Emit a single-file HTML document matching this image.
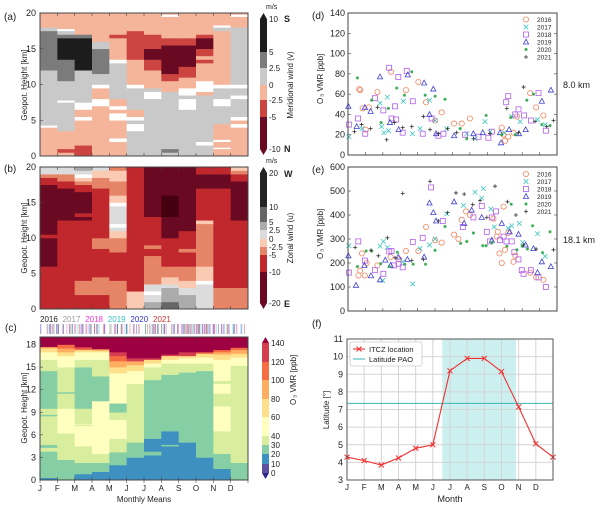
<!DOCTYPE html>
<html><head><meta charset="utf-8"><style>
body{margin:0;background:#fff}
svg{display:block;font-family:"Liberation Sans",sans-serif}
</style></head><body>
<svg id="fig" width="600" height="509" viewBox="0 0 600 509" xmlns="http://www.w3.org/2000/svg"></svg>
<script>
// ---------- DATA ----------
// Panel (a): meridional wind, per month column segments [topKm, classIndex] from ground up
// classes: 0 <-5, 1 -5..-2.5, 2 -2.5..0, 3 0..2.5, 4 2.5..5, 5 >5, 6 no data
const monthsLbl = ['J','F','M','A','M','J','J','A','S','O','N','D'];
const vWind = [
 [[4,2],[4.3,6],[12,3],[17.5,4],[18,3],[20,2]],
 [[0.5,2],[1,1],[3.5,2],[7.5,3],[7.8,6],[10.5,3],[13.5,4],[16.5,5],[17,4],[17.5,3],[17.8,6],[20,2]],
 [[1.5,1],[5,2],[5.5,6],[6.5,2],[7.5,6],[12,3],[16.5,5],[17,4],[20,2]],
 [[7,2],[8,6],[9.5,2],[10,6],[11.5,3],[15,4],[16,3],[20,2]],
 [[2,2],[2.5,6],[5,2],[6,6],[6.5,2],[7,6],[8,2],[13,3],[13.5,6],[16.5,2],[17,1],[20,2]],
 [[3.5,3],[4.5,6],[5,3],[5.5,6],[6.5,2],[9.5,3],[10,6],[13.5,2],[17.5,1],[20,2]],
 [[8,3],[9,6],[9.5,3],[12,2],[13.5,1],[15,0],[17,1],[20,2]],
 [[0.5,3],[1,4],[9,3],[10.5,2],[11.5,1],[15.5,0],[16.5,1],[19.5,2],[19.8,6],[20,2]],
 [[6.5,3],[8,6],[8.5,3],[9.5,6],[11,2],[12.5,1],[15.5,0],[16.5,1],[20,2]],
 [[1.5,3],[2,6],[8.5,3],[9,2],[10.5,6],[13,2],[13.5,1],[14,2],[15,1],[16.5,0],[17,1],[20,2]],
 [[1,2],[1.2,6],[2,2],[2.3,6],[4.5,2],[7,3],[8,6],[9.5,3],[10,6],[17.5,2],[18,3],[18.3,6],[20,2]],
 [[4,2],[4.5,6],[5,2],[5.5,6],[8,3],[8.5,6],[9.5,3],[10,6],[18,3],[19.5,2],[19.8,6],[20,2]]
];
const vColors = ['#6a0a22','#cc4440','#f4b59b','#c9c9c9','#7b7b7b','#1c1c1c','#ffffff'];
const vTicks = ['10','5','2.5','0','-2.5','-5','-10'];

// Panel (b): zonal wind classes: 0 <-10,1 -10..-5,2 -5..-2.5,3 -2.5..0,4 0..2.5,5 2.5..5,6 5..10,7 >10,8 extreme,9 no data
const uWind = [
 [[6,1],[10,0],[10.5,1],[17.5,0],[18.5,1],[19,2],[20,4]],
 [[12.5,1],[17,0],[18,1],[19,2],[20,4]],
 [[2,1],[4,2],[12.5,1],[13,0],[13.5,1],[16.5,0],[17.5,1],[18,2],[18.5,3],[19,9],[19.5,4],[20,5]],
 [[2,1],[4.5,2],[8.5,1],[10,2],[17,1],[18.5,2],[19.5,3],[20,4]],
 [[4,2],[8,1],[10,2],[11,3],[11.5,4],[12,9],[14.5,4],[15,9],[16,3],[18,2],[19.5,3],[20,2]],
 [[2.5,3],[20,1]],
 [[1,5],[2,4],[2.5,9],[3.5,4],[7.5,2],[8.5,1],[9,2],[13,1],[20,0]],
 [[1,6],[3,5],[3.5,4],[4.5,3],[6,2],[10,1],[13,0],[16,8],[20,0]],
 [[2,5],[3,4],[4,3],[6,2],[8,1],[8.5,2],[11,1],[20,0]],
 [[3.5,4],[4,9],[6,3],[12,2],[12.5,3],[17,1],[19,0],[20,1]],
 [[3,2],[17,1],[19,0],[20,1]],
 [[3,2],[12.5,1],[18,0],[19,1],[19.5,2],[20,3]]
];
const uColors = ['#6a0a22','#c0282d','#e58466','#fbcab2','#dcdcdc','#ababab','#666666','#222222','#45000f','#ffffff'];
const uTicks = ['20','10','5','2.5','0','-2.5','-5','-10','-20'];

// Panel (c): ozone classes 0:0-10,1:10-20,2:20-30,3:30-40,4:40-60,5:60-80,6:80-100,7:100-120,8:120-140,9:>140
const ozone = [
 [[0.3,1],[3.8,2],[4.3,3],[4.7,2],[8.5,3],[8.7,2],[9.5,3],[14.5,2],[16,3],[17,4],[17.5,5],[17.7,6],[19,9]],
 [[2.7,2],[6.2,3],[9.5,4],[11.5,3],[11.7,2],[15,3],[16.5,4],[17,5],[17.5,6],[18,7],[19,9]],
 [[0.8,1],[2.3,2],[4.5,3],[7.2,4],[7.4,3],[7.5,4],[9.5,3],[15,2],[16,3],[17,4],[17.3,5],[17.5,7],[17.7,8],[19,9]],
 [[1.1,1],[2.3,2],[3.5,3],[10.5,4],[13.8,2],[16,3],[17,4],[17.2,5],[17.4,6],[19,9]],
 [[2,1],[3.7,2],[5.5,3],[8,4],[9,3],[10.2,2],[14.2,4],[15,5],[15.8,6],[16.5,7],[17,8],[19,9]],
 [[3,1],[5,2],[12.8,3],[14.5,4],[15.3,5],[15.8,6],[16.2,8],[19,9]],
 [[3.3,1],[3.8,2],[5.5,1],[13.3,2],[15,3],[15.5,4],[16,5],[16.2,8],[19,9]],
 [[4.5,1],[4.7,2],[6.5,1],[14,2],[15.5,3],[16,4],[16.5,5],[16.7,8],[19,9]],
 [[5,1],[14.3,2],[15.5,3],[16.2,4],[16.5,5],[17,8],[19,9]],
 [[3,1],[14.5,2],[15.5,3],[16.3,4],[16.8,5],[17,7],[19,9]],
 [[1.5,1],[3.5,2],[6.5,3],[9.8,4],[11.5,3],[12.8,4],[13.2,3],[16,4],[16.7,5],[17,6],[17.3,7],[19,9]],
 [[2.3,2],[15.2,3],[16.3,4],[16.8,5],[17.3,6],[17.6,7],[19,9]]
];
const oColors = ['#5e4fa2','#3d90bf','#86cfa4','#d8ee9e','#ffffc0','#fee08b','#fdae61','#f46d43','#d53e4f','#9e0142'];
const oTicks = ['0','10','20','30','40','60','80','100','120','140'];

// Panels (d),(e): [monthFraction, ppb]
const years = ['2016','2017','2018','2019','2020','2021'];
const yearColors = ['#f4845f','#3cc8c0','#b15ee8','#4040d8','#2ea84a','#333333'];
const yearLblColors = ['#222','#999','#ff33dd','#33c4c0','#3333cc','#cc3333'];
const d2016 = [[0.65,65],[0.7,64],[0.84,46],[1.02,25],[1.2,47],[1.69,62],[2.47,82],[3.33,64],[4.04,72],[4.48,52],[5.0,34],[5.38,42],[6.09,31],[6.53,31],[7.0,36],[8.83,27],[8.93,20],[9.02,14],[9.2,18],[9.5,22],[9.7,38],[10.46,61],[10.8,47],[11.22,39]];
const d2017 = [[0.05,18],[0.8,26],[1.84,51],[1.93,28],[2.06,22],[2.26,57],[2.32,24],[3.18,53],[3.7,21],[4.14,26],[4.68,54],[5.0,34],[5.67,26],[6.82,21],[7.3,16],[7.87,33],[8.16,23],[8.97,22],[9.4,38],[9.88,33],[10.88,35],[11.32,30]];
const d2018 = [[0.05,30],[0.58,36],[0.99,21],[1.55,56],[2.03,44],[2.36,86],[2.5,36],[2.7,48],[2.76,35],[2.89,77],[3.14,22],[3.37,83],[3.72,53],[4.29,21],[4.8,36],[5.19,19],[5.48,21],[6.72,20],[7.49,18],[8.06,17],[8.26,23],[9.08,52],[9.2,58],[9.6,40],[9.79,45],[10.11,39],[10.5,34],[10.94,61],[11.36,24]];
const d2019 = [[0.02,48],[0.5,28],[0.97,47],[1.3,43],[1.84,77],[2.41,32],[2.91,25],[3.43,79],[4.37,71],[4.68,40],[4.9,65],[5.06,21],[6.09,19],[7.2,21],[7.74,22],[8.73,22],[8.79,12],[9.25,25],[9.82,21],[10.2,25],[11.13,53],[11.65,64]];
const d2020 = [[0.54,76],[1.36,54],[1.9,32],[2.32,46],[2.8,66],[3.24,59],[3.66,82],[4.43,59],[5.0,58],[5.57,55],[6.44,26],[6.82,16],[7.93,39],[8.83,20],[9.35,37],[9.6,20],[10.27,54],[10.65,60],[11.13,30],[11.6,29]];
const d2021 = [[0.37,23],[0.78,30],[1.3,26],[1.7,47],[2.22,15],[2.66,32],[3.14,27],[3.66,28],[4.33,38],[4.71,25],[5.19,21],[5.72,26],[6.24,22],[7.2,16],[8.16,21],[9.12,46],[9.79,22],[10.08,67],[10.74,33],[11.41,28],[11.8,34]];
const e2016 = [[0.8,240],[0.6,148],[0.7,168],[0.97,148],[1.07,200],[1.69,190],[2.45,225],[2.95,215],[3.33,250],[4.04,250],[4.48,350],[5.0,295],[5.38,285],[6.09,318],[6.34,300],[6.53,380],[6.78,415],[7.0,400],[8.35,385],[8.54,310],[8.6,330],[8.7,240],[8.83,200],[8.93,435],[9.02,255],[9.2,325],[9.5,205],[9.6,230],[10.46,160],[10.8,140],[11.22,130]];
const e2017 = [[0.05,272],[1.84,270],[1.99,127],[2.03,290],[2.26,265],[3.14,205],[3.72,113],[4.14,260],[4.68,275],[5.0,300],[5.67,405],[6.63,440],[7.3,495],[7.68,470],[7.77,510],[8.2,425],[8.4,350],[9.2,345],[9.4,355],[9.84,365],[10.03,285],[10.88,322],[11.32,228]];
const e2018 = [[0.05,160],[0.59,290],[0.97,210],[1.55,170],[2.03,155],[2.37,248],[2.5,250],[2.65,190],[2.9,197],[3.14,182],[3.72,288],[4.29,305],[4.77,515],[5.44,375],[6.59,350],[7.2,390],[7.68,438],[7.97,330],[8.16,290],[8.26,390],[8.5,415],[8.73,295],[8.93,310],[9.1,290],[9.4,290],[9.55,245],[9.79,215],[9.98,170],[10.08,155],[10.5,170],[10.94,140],[11.36,100]];
const e2019 = [[0.02,230],[0.46,107],[0.94,190],[1.32,147],[1.84,130],[2.14,212],[2.45,190],[2.89,225],[3.41,215],[4.37,225],[4.68,450],[4.9,410],[5.06,375],[6.09,455],[6.67,365],[7.1,420],[7.68,390],[8.26,295],[8.83,365],[9.28,330],[9.79,320],[10.2,275],[10.65,260],[10.88,160],[11.13,205],[11.65,185]];
const e2020 = [[0.54,185],[1.04,250],[1.36,250],[1.88,197],[2.37,185],[2.83,245],[3.26,195],[3.74,195],[4.45,195],[5.0,253],[5.57,352],[6.47,282],[6.82,290],[7.2,325],[7.74,272],[7.93,272],[8.26,285],[9.12,270],[9.37,445],[9.7,255],[10.0,270],[10.3,258],[10.6,355],[11.17,243],[11.6,330]];
const e2021 = [[0.41,265],[1.32,253],[1.74,230],[2.26,305],[2.7,222],[3.14,490],[3.66,210],[4.33,215],[4.71,540],[5.19,375],[5.72,410],[6.2,492],[6.67,487],[7.16,443],[7.58,460],[7.97,390],[8.44,520],[9.16,455],[9.64,400],[10.08,275],[10.8,258],[11.8,255]];
const dSeries = [d2016,d2017,d2018,d2019,d2020,d2021];
const eSeries = [e2016,e2017,e2018,e2019,e2020,e2021];
const dTicks = [0,20,40,60,80,100,120,140];
const eTicks = [0,100,200,300,400,500,600];

// Panel (f)
const itcz = [4.3,4.1,3.85,4.25,4.8,5.0,9.2,9.9,9.9,9.15,7.15,5.05,4.3];
const paoLat = 7.35;
const shadeStart = 5.55, shadeEnd = 9.85;
const fTicks = [3,4,5,6,7,8,9,10,11];

// ---------- DRAWING ----------
const NS='http://www.w3.org/2000/svg';
const svg=document.getElementById('fig');
function el(tag,attrs,parent){const e=document.createElementNS(NS,tag);for(const k in attrs)e.setAttribute(k,attrs[k]);(parent||svg).appendChild(e);return e;}
function txt(s,x,y,size,opts,parent){opts=opts||{};const t=el('text',{x:x,y:y,'font-size':size,fill:opts.fill||'#222','text-anchor':opts.anchor||'start'},parent);if(opts.rot)t.setAttribute('transform','rotate(-90 '+x+' '+y+')');if(opts.weight)t.setAttribute('font-weight',opts.weight);t.textContent=s;return t;}

const HX0=40,HX1=248,HW=(HX1-HX0)/12;
function heat(name,data,colors,y0,y1,kmMax){
  const g=el('g',{});
  
  
  const sy=k=>y1-(k/kmMax)*(y1-y0);
  data.forEach((col,i)=>{let prev=0;col.forEach(seg=>{
    const r=el('rect',{x:HX0+i*HW,y:sy(seg[0]),width:HW+0.4,height:sy(prev)-sy(seg[0])+0.3,fill:colors[seg[1]]},g);
    
    
    prev=seg[0];});});
  const f=el('rect',{x:HX0,y:y0,width:HX1-HX0,height:y1-y0,fill:'none',stroke:'#444','stroke-width':1});
  
  
  for(let i=1;i<12;i++){el('line',{x1:HX0+i*HW,x2:HX0+i*HW,y1:y0,y2:y0+3,stroke:'#444','stroke-width':0.6});el('line',{x1:HX0+i*HW,x2:HX0+i*HW,y1:y1,y2:y1-3,stroke:'#444','stroke-width':0.6});}
  return sy;
}
function colorbar(name,colors,ys,x,labels,topCol,botCol){
  const g=el('g',{});
  
  
  for(let i=0;i<colors.length;i++){el('rect',{x:x,y:ys[i],width:7,height:ys[i+1]-ys[i],fill:colors[i]},g);}
  el('polygon',{points:`${x},${ys[0]} ${x+7},${ys[0]} ${x+3.5},${ys[0]-6}`,fill:topCol},g);
  const yl=ys[ys.length-1];
  el('polygon',{points:`${x},${yl} ${x+7},${yl} ${x+3.5},${yl+6}`,fill:botCol},g);
  labels.forEach((l,i)=>txt(l,x+9,ys[i]+3,8,{},g));
}

// (a)
const syA=heat('meridional-wind-heatmap',vWind,vColors,13,156,20);
[0,5,10,15,20].forEach(v=>{txt(String(v),36,syA(v)+3,9,{anchor:'end'});el('line',{x1:HX0,x2:HX0+3,y1:syA(v),y2:syA(v),stroke:'#444','stroke-width':0.6});});
txt('Geopot. Height [km]',27,85,8,{rot:1,anchor:'middle'});
txt('(a)',4,20,10);
colorbar('meridional-wind-colorbar',['#1c1c1c','#7b7b7b','#c9c9c9','#f4b59b','#cc4440','#6a0a22'],[19,52,68,85,100,117,149],260,vTicks,'#1c1c1c','#6a0a22');
txt('m/s',266,9,7);txt('S',284,22,9,{weight:'bold'});txt('N',284,152,9,{weight:'bold'});
txt('Meridional wind (v)',293,85,8,{rot:1,anchor:'middle'});

// (b)
const syB=heat('zonal-wind-heatmap',uWind,uColors,167,309,20);
[0,5,10,15,20].forEach(v=>{txt(String(v),36,syB(v)+3,9,{anchor:'end'});el('line',{x1:HX0,x2:HX0+3,y1:syB(v),y2:syB(v),stroke:'#444','stroke-width':0.6});});
txt('Geopot. Height [km]',27,238,8,{rot:1,anchor:'middle'});
txt('(b)',4,172,10);
colorbar('zonal-wind-colorbar',['#222222','#666666','#ababab','#dcdcdc','#fbcab2','#e58466','#c0282d','#6a0a22'],[173,207,222,230,239,247,255,272,303],260,uTicks,'#222','#6a0a22');
txt('m/s',266,163,7);txt('W',284,177,9,{weight:'bold'});txt('E',284,307,9,{weight:'bold'});
txt('Zonal wind (u)',293,238,8,{rot:1,anchor:'middle'});

// (c)
const syC=heat('ozone-heatmap',ozone,oColors,337,480,19);
[0,3,6,9,12,15,18].forEach(v=>{txt(String(v),36,syC(v)+3,9,{anchor:'end'});el('line',{x1:HX0,x2:HX0+3,y1:syC(v),y2:syC(v),stroke:'#444','stroke-width':0.6});});
txt('Geopot. Height [km]',27,408,8,{rot:1,anchor:'middle'});
txt('(c)',5,331,10);
for(let i=0;i<=12;i++)el('line',{x1:HX0+i*HW,x2:HX0+i*HW,y1:480,y2:483,stroke:'#444','stroke-width':0.6});
monthsLbl.forEach((m,i)=>txt(m,HX0+i*HW,491,8,{anchor:'middle'}));
txt('Monthly Means',144,502,8,{anchor:'middle'});
const ozCbColors=['#5e4fa2','#3d90bf','#86cfa4','#d8ee9e','#ffffc0','#fee08b','#fdae61','#f46d43','#d53e4f'];
colorbar('ozone-colorbar',ozCbColors.slice().reverse(),[343,362,380,399,417,436,445,454,464,473],262,oTicks.slice().reverse(),'#9e0142','#2a2a8e');
txt('O',296,405,8,{rot:1});
txt('₃ VMR [ppb]',296,398,8,{rot:1});
years.forEach((y,i)=>txt(y,40+i*22.6,322,8,{fill:yearLblColors[i]}));
// sounding ticks from scatter dates
const tickG=el('g',{});


eSeries.forEach((s,yi)=>s.forEach(p=>{el('line',{x1:HX0+p[0]*HW,x2:HX0+p[0]*HW,y1:324,y2:334,stroke:yearLblColors[yi],'stroke-width':0.7,opacity:0.55},tickG);}));

// scatter panels
function marker(g,kind,x,y,c){
  if(kind===0)el('circle',{cx:x,cy:y,r:2.6,fill:'none',stroke:c,'stroke-width':0.8},g);
  else if(kind===1){el('path',{d:`M${x-2.3},${y-2.3}L${x+2.3},${y+2.3}M${x-2.3},${y+2.3}L${x+2.3},${y-2.3}`,stroke:c,'stroke-width':0.8},g);}
  else if(kind===2)el('rect',{x:x-2.5,y:y-2.5,width:5,height:5,fill:'none',stroke:c,'stroke-width':0.8},g);
  else if(kind===3)el('polygon',{points:`${x},${y-2.8} ${x+2.6},${y+2} ${x-2.6},${y+2}`,fill:'none',stroke:c,'stroke-width':0.8},g);
  else if(kind===4)el('path',{d:`M${x-1.6},${y}L${x+1.6},${y}M${x},${y-1.6}L${x},${y+1.6}M${x-1.2},${y-1.2}L${x+1.2},${y+1.2}M${x-1.2},${y+1.2}L${x+1.2},${y-1.2}`,stroke:c,'stroke-width':0.7},g);
  else el('path',{d:`M${x-2},${y}L${x+2},${y}M${x},${y-2}L${x},${y+2}`,stroke:c,'stroke-width':0.8},g);
}
function scatter(name,series,ticks,y0,y1,ymax,label,sideLbl,legY){
  const X0=348,X1=557;
  const sx=m=>X0+Math.max(0,m)/12*(X1-X0);
  const sy=v=>y1-v/ymax*(y1-y0);
  const g=el('g',{});
  
  
  series.forEach((s,yi)=>{s.forEach(p=>{
    const m=el('g',{},g);
    
    
    marker(m,yi,sx(p[0]),sy(p[1]),yearColors[yi]);});});
  el('rect',{x:X0,y:y0,width:X1-X0,height:y1-y0,fill:'none',stroke:'#444','stroke-width':1});
  ticks.forEach(v=>{txt(String(v),345,sy(v)+3,9,{anchor:'end'});el('line',{x1:X0,x2:X0+3,y1:sy(v),y2:sy(v),stroke:'#444','stroke-width':0.6});el('line',{x1:X1,x2:X1-3,y1:sy(v),y2:sy(v),stroke:'#444','stroke-width':0.6});});
  for(let i=1;i<12;i++){el('line',{x1:sx(i),x2:sx(i),y1:y1,y2:y1-3,stroke:'#444','stroke-width':0.6});}
  txt(label,312,y0+6,10);
  txt(sideLbl,563,(y0+y1)/2+4,9);
  txt('O',323,(y0+y1)/2+20,8,{rot:1});
  txt('₃ VMR [ppb]',323,(y0+y1)/2+13,8,{rot:1});
  const lg=el('g',{});
  
  
  years.forEach((y,i)=>{marker(lg,i,526,legY+i*7.5,yearColors[i]);txt(y,537,legY+i*7.5+2.5,6.5,{},lg);});
}
scatter('ozone-8km-scatter',dSeries,dTicks,13,155,140,'(d)','8.0 km',19.5);
scatter('ozone-18km-scatter',eSeries,eTicks,167,311,600,'(e)','18.1 km',174);

// (f)
(function(){
  const X0=347,X1=553,Y0=339,Y1=480;
  const sx=m=>X0+m/12*(X1-X0);
  const sy=v=>Y1-(v-3)/8*(Y1-Y0);
  const sh=el('rect',{x:sx(shadeStart),y:Y0,width:sx(shadeEnd)-sx(shadeStart),height:Y1-Y0,fill:'#ccf0f0'});
  
  
  for(let i=0;i<=12;i++)el('line',{x1:sx(i),x2:sx(i),y1:Y0,y2:Y1,stroke:'#d4d4d4','stroke-width':1});
  fTicks.forEach(v=>{el('line',{x1:X0,x2:X1,y1:sy(v),y2:sy(v),stroke:'#d4d4d4','stroke-width':1});txt(String(v),343,sy(v)+3,9,{anchor:'end'});});
  const pao=el('line',{x1:X0,x2:X1,y1:sy(paoLat),y2:sy(paoLat),stroke:'#3bb5b5','stroke-width':1});
  
  
  const pts=itcz.map((v,i)=>sx(i)+','+sy(v)).join(' ');
  const line=el('polyline',{points:pts,fill:'none',stroke:'#f03030','stroke-width':1.1});
  
  
  itcz.forEach((v,i)=>{const x=sx(i),y=sy(v);el('path',{d:`M${x-2.5},${y-2.5}L${x+2.5},${y+2.5}M${x-2.5},${y+2.5}L${x+2.5},${y-2.5}`,stroke:'#f03030','stroke-width':1});});
  el('rect',{x:X0,y:Y0,width:X1-X0,height:Y1-Y0,fill:'none',stroke:'#555','stroke-width':1});
  monthsLbl.forEach((m,i)=>txt(m,sx(i),490,8,{anchor:'middle'}));
  txt('Month',450,502,9,{anchor:'middle'});
  txt('Latitude [°]',329,410,8,{rot:1,anchor:'middle'});
  txt('(f)',312,327,10);
  const lg=el('g',{});
  
  
  el('rect',{x:350,y:342,width:72,height:24,rx:2,fill:'#fff',stroke:'#ccc','stroke-width':0.8},lg);
  el('line',{x1:353,x2:365,y1:349,y2:349,stroke:'#f03030','stroke-width':1.1},lg);
  el('path',{d:'M356.5,346.5L361.5,351.5M356.5,351.5L361.5,346.5',stroke:'#f03030','stroke-width':1},lg);
  txt('ITCZ location',369,352,7.5,{},lg);
  el('line',{x1:353,x2:365,y1:359,y2:359,stroke:'#3bb5b5','stroke-width':1},lg);
  txt('Latitude PAO',369,362,7.5,{},lg);
})();
</script>
</body></html>
